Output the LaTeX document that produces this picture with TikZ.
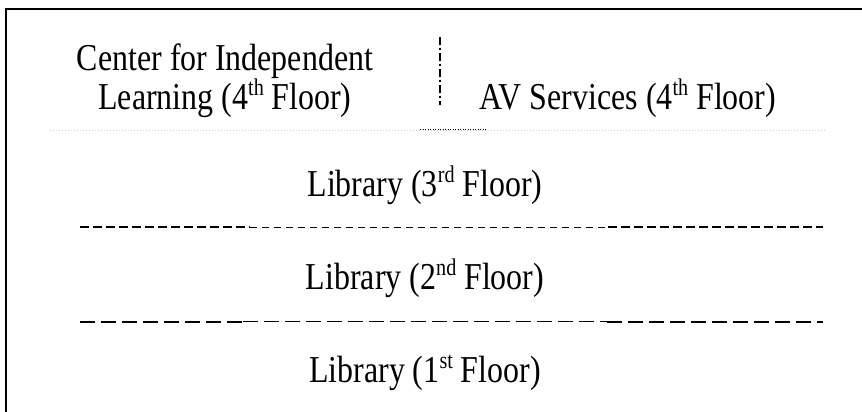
\documentclass[tikz,border=0pt]{standalone}
\usepackage{fontspec}
\setmainfont{Liberation Serif}[FakeStretch=0.84]
\newcommand\supx[1]{\raisebox{14pt}{\fontsize{24}{24}\selectfont #1}}
\begin{document}
\begin{tikzpicture}[x=1pt,y=1pt,
  lbl/.style={font=\fontsize{38}{38}\selectfont, inner sep=0, anchor=base},
  thickdash/.style={line width=2, dash pattern=on 8.7 off 4.3},
  thindash/.style={line width=0.9, dash pattern=on 7 off 5},
  longthick/.style={line width=2, dash pattern=on 15 off 6},
  longthin/.style={line width=1, dash pattern=on 15 off 6}]
\useasboundingbox (0,0) rectangle (862,412);
\draw[line width=2] (6,0) -- (6,403) -- (862,403);
% texts
\node[lbl, align=center] (cil) at (225,302) {Center for Independent\\Learning (4\supx{th} Floor)};
\node[lbl] (av) at (628,302) {AV Services (4\supx{th} Floor)};
\node[lbl] (l3) at (425,215) {Library (3\supx{rd} Floor)};
\node[lbl] (l2) at (425,122) {Library (2\supx{nd} Floor)};
\node[lbl] (l1) at (425,29) {Library (1\supx{st} Floor)};
% vertical divider
\draw[line width=1.3, dash pattern=on 8 off 3 on 2 off 3] (440,375) -- (440,307);
% dotted separator
\draw[gray!40, line width=0.6, dash pattern=on 1 off 2] (50,282) -- (825,282);
\draw[line width=1, dash pattern=on 1 off 1.5] (420,282) -- (487,282);
% dashed separator 3/2
\draw[thickdash] (80,185) -- (250,185);
\draw[thindash] (250,185) -- (608,185);
\draw[thickdash] (608,185) -- (823,185);
% dashed separator 2/1
\draw[longthick] (80,90) -- (243,90);
\draw[longthin] (243,90) -- (607,90);
\draw[longthick] (607,90) -- (823,90);
\end{tikzpicture}
\end{document}
